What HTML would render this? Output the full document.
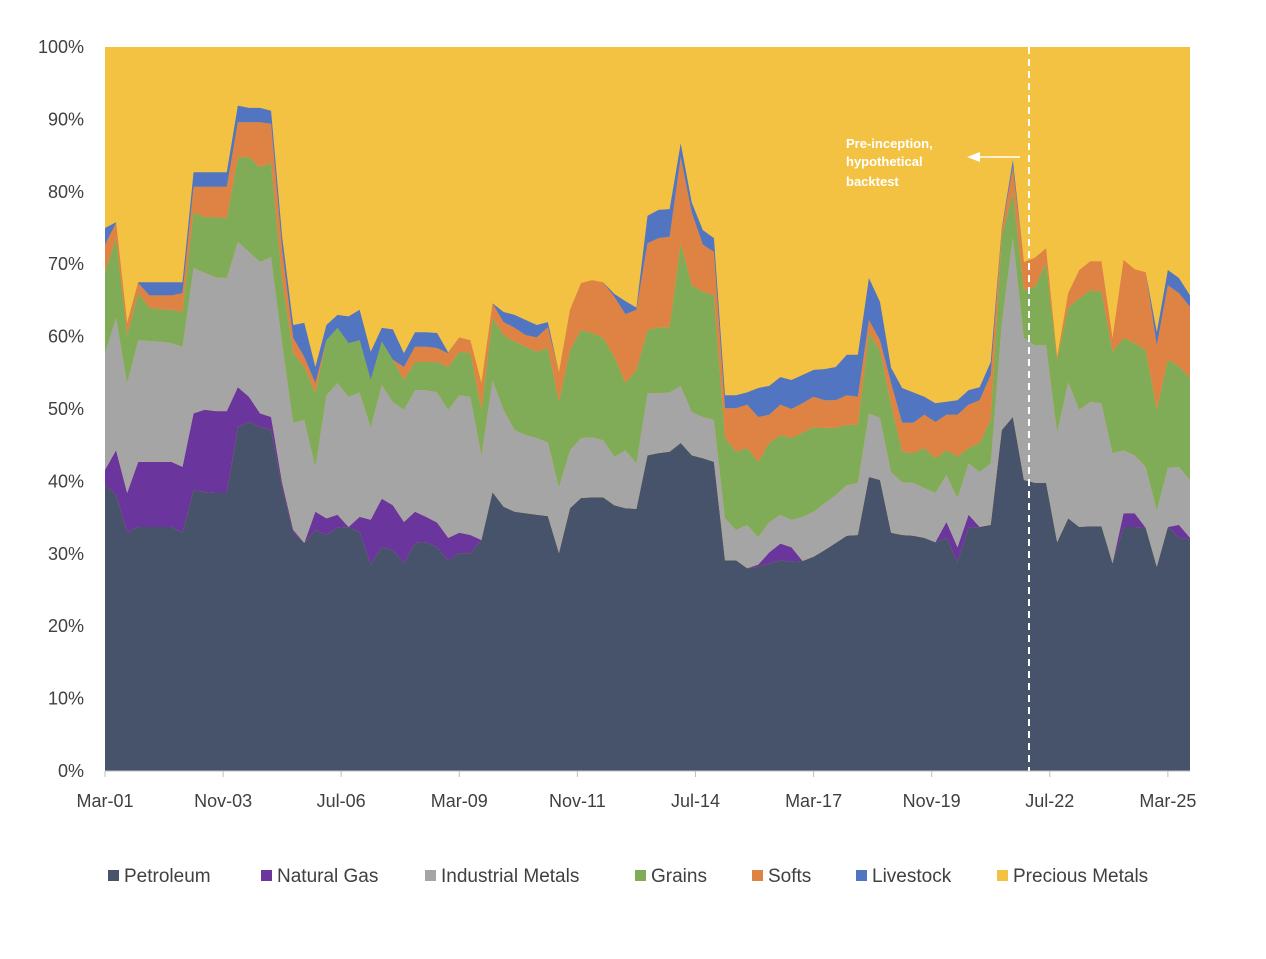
<!DOCTYPE html>
<html><head><meta charset="utf-8">
<style>
html,body{margin:0;padding:0;background:#fff;}
svg text{font-family:"Liberation Sans",sans-serif;}
</style></head>
<body>
<svg id="chart" width="1266" height="954" viewBox="0 0 1266 954" xmlns="http://www.w3.org/2000/svg">
<rect width="1266" height="954" fill="#fff"/>
<g id="areas"></g>
<g id="axes"></g>
<g id="annot">
  <line x1="1029" y1="47" x2="1029" y2="771" stroke="#fff" stroke-width="2" stroke-dasharray="7,5"/>
  <line x1="1020" y1="157" x2="978" y2="157" stroke="#fff" stroke-width="1.5"/>
  <polygon points="967,157 980,152 980,162" fill="#fff"/>
  <text x="846" y="148" fill="#fff" font-size="13" font-weight="bold">Pre-inception,</text>
  <text x="846" y="166" fill="#fff" font-size="13" font-weight="bold">hypothetical</text>
  <text x="846" y="186" fill="#fff" font-size="13" font-weight="bold">backtest</text>
</g>
<g id="legend"></g>
</svg>
<script>
const seriesNames = ["Petroleum","Natural Gas","Industrial Metals","Grains","Softs","Livestock"];
const seriesColors = ["#46536A","#6A359C","#A5A5A5","#80AB57","#DF8344","#5275C1"];
const preciousName = "Precious Metals";
const preciousColor = "#F4C243";
const startLabel = "Mar-01";
const xTickLabels = ["Mar-01","Nov-03","Jul-06","Mar-09","Nov-11","Jul-14","Mar-17","Nov-19","Jul-22","Mar-25"];
const xTickMonths = [0,32,64,96,128,160,192,224,256,288];
const yTicks = [0,10,20,30,40,50,60,70,80,90,100];
// quarterly observations, months since Mar-01
const petroleum = [39.5,38.1,33.0,33.7,33.7,33.7,33.7,32.9,38.8,38.5,38.4,38.4,47.5,48.2,47.5,47.1,39.2,32.9,31.5,33.3,32.6,33.6,33.7,33.0,28.5,30.9,30.5,28.7,31.5,31.6,30.9,29.1,30.1,30.1,31.9,38.5,36.5,35.8,35.6,35.4,35.2,30.1,36.3,37.7,37.8,37.8,36.7,36.3,36.2,43.6,43.9,44.1,45.3,43.6,43.2,42.7,29.1,29.1,28.0,28.2,28.7,29.1,28.9,29.0,29.6,30.5,31.5,32.5,32.6,40.6,40.2,32.9,32.6,32.5,32.2,31.6,32.2,28.9,33.6,33.7,34.0,47.1,48.9,40.2,39.8,39.8,31.6,34.9,33.7,33.8,33.8,28.7,33.7,33.7,33.6,28.2,33.7,32.2,32.0];
const naturalGas = [2.1,6.2,5.4,9.0,9.0,9.0,9.0,9.1,10.6,11.4,11.3,11.3,5.5,3.5,1.9,1.8,0.6,0.4,0,2.5,2.3,1.8,0,2.1,6.2,6.7,6.2,5.7,4.3,3.5,3.4,3.1,2.8,2.5,0,0,0,0,0,0,0,0,0,0,0,0,0,0,0,0,0,0,0,0,0,0,0,0,0,0.3,1.5,2.3,2.0,0,0,0,0,0,0,0,0,0,0,0,0,0,2.2,2.0,1.8,0,0,0,0,0,0,0,0,0,0,0,0,0,1.9,1.9,0,0,0,1.8,0.2];
const industrialMetals = [16.1,18.3,15.2,16.8,16.7,16.6,16.4,16.6,20.1,18.9,18.5,18.4,20.1,20.0,20.9,22.1,19.3,14.8,17.0,6.2,17.0,18.2,18.0,17.2,12.8,15.7,14.3,15.5,16.8,17.5,18.0,17.7,19.0,19.1,11.7,15.5,13.4,11.3,10.8,10.6,10.2,9.1,8.0,8.3,8.3,7.9,6.7,8.0,6.3,8.6,8.3,8.2,7.9,6.0,5.7,5.8,5.8,4.2,6.0,3.8,4.2,4.0,3.8,6.1,6.2,6.5,6.6,7.0,7.2,8.8,8.6,8.4,7.3,7.3,6.9,6.8,6.5,6.8,7.1,7.6,8.5,14.8,24.9,19.6,19.0,19.0,15.2,18.8,16.2,17.2,17.0,15.2,8.7,8.0,8.4,7.8,8.2,8.0,8.0];
const grains = [11.2,11.0,6.6,6.5,4.6,4.5,4.6,4.8,7.7,7.7,8.3,8.3,11.6,13.1,13.1,13.0,8.7,9.6,7.3,10.2,7.6,7.6,7.4,7.2,6.5,6.0,5.8,4.1,3.9,3.9,4.2,5.9,6.0,6.0,6.3,8.6,10.3,12.2,12.2,11.9,13.0,11.8,13.8,14.9,14.4,14.1,13.8,9.3,12.9,8.7,9.1,9.0,19.7,17.5,17.3,17.2,11.1,10.8,10.6,10.4,10.9,11.0,11.3,11.6,11.7,10.4,9.3,8.3,8.0,11.1,9.3,9.3,4.2,4.1,5.5,4.8,3.4,5.7,2.1,4.0,6.0,11.9,6.2,6.6,8.1,11.4,10.0,10.3,15.4,15.4,15.4,14.0,15.5,15.5,16.1,13.9,14.9,13.9,14.1];
const softs = [3.8,2.1,1.7,1.4,1.7,1.9,2.0,2.6,3.5,4.2,4.2,4.3,4.9,4.8,6.2,5.4,4.2,2.1,1.4,1.4,0,0,0,0,0,0,0,1.8,2.1,2.1,1.9,1.9,2.0,1.8,3.7,2.0,1.8,1.9,1.6,2.0,2.9,4.1,5.6,6.5,7.3,7.7,8.3,9.5,8.3,12.0,12.3,12.5,11.9,10.0,6.5,6.0,4.1,6.0,6.0,6.2,3.9,4.2,4.0,4.1,4.2,3.8,3.8,4.1,3.9,1.8,1.4,3.0,4.0,4.2,4.6,5.0,4.9,5.8,6.0,5.9,6.2,0.9,3.4,3.9,4.0,2.0,0.4,2.0,3.9,4.0,4.2,1.9,10.8,10.2,10.8,8.9,10.3,10.1,9.8];
const livestock = [2.3,0.1,0,0.1,1.8,1.8,1.8,1.5,2.0,2.0,2.0,2.0,2.3,2.0,2.0,1.8,1.8,1.8,4.7,2.2,2.1,1.8,3.7,4.2,3.9,1.9,4.2,1.9,2.0,2.0,2.1,0.1,0,0,0,0,1.4,1.8,2.1,1.7,0.7,0,0,0,0,0,0.4,1.8,0.3,3.8,3.9,3.8,1.9,1.4,2.0,1.9,1.8,1.8,1.7,4.0,4.0,3.8,4.0,3.9,3.7,4.3,4.6,5.6,5.8,5.8,5.3,2.1,4.8,4.2,2.5,2.6,1.8,2.0,2.0,1.8,1.8,0.3,1.0,0,0,0,0,0,0,0,0,0,0,0,0,1.8,2.1,2.1,1.6];
const series = [petroleum,naturalGas,industrialMetals,grains,softs,livestock];

const NS="http://www.w3.org/2000/svg";
const L=105,R=1190,T=47,B=771;
const nPts = petroleum.length;
const monthsPerPoint = 3;
const lastMonth = (nPts-1)*monthsPerPoint;
const xScale = m => L + (m/lastMonth)*(R-L);
const yScale = v => B - (v/100)*(B-T);
function mk(tag,attrs,parent){const e=document.createElementNS(NS,tag);for(const k in attrs)e.setAttribute(k,attrs[k]);parent.appendChild(e);return e;}

const areas=document.getElementById('areas');
// precious metals background (remainder to 100%)
const bg=mk('rect',{x:L,y:T,width:R-L,height:B-T,fill:preciousColor},areas);


const cum=new Array(nPts).fill(0);
series.forEach((s,si)=>{
  const lower=cum.slice();
  for(let i=0;i<nPts;i++)cum[i]+=s[i];
  let d='';
  for(let i=0;i<nPts;i++)d+=(i?'L':'M')+xScale(i*monthsPerPoint).toFixed(2)+','+yScale(cum[i]).toFixed(2);
  for(let i=nPts-1;i>=0;i--)d+='L'+xScale(i*monthsPerPoint).toFixed(2)+','+yScale(lower[i]).toFixed(2);
  d+='Z';
  const p=mk('path',{d:d,fill:seriesColors[si]},areas);
  
  
});

const axes=document.getElementById('axes');
yTicks.forEach(v=>{
  const t=mk('text',{x:84,y:yScale(v)+6,'text-anchor':'end','font-size':18,fill:'#404040'},axes);
  t.textContent=v+'%';
  
  
});
const ax=mk('line',{x1:L,y1:B,x2:R,y2:B,stroke:'#BFBFBF','stroke-width':1},axes);


xTickLabels.forEach((lab,i)=>{
  const x=xScale(xTickMonths[i]);
  const tk=mk('line',{x1:x,y1:B,x2:x,y2:B+6,stroke:'#BFBFBF','stroke-width':1},axes);
  
  
  const t=mk('text',{x:x,y:807,'text-anchor':'middle','font-size':18,fill:'#404040'},axes);
  t.textContent=lab;
  
  
});

const legend=document.getElementById('legend');
const legNames=seriesNames.concat([preciousName]);
const legColors=seriesColors.concat([preciousColor]);
const legX=[108,261,425,635,752,856,997];
legNames.forEach((n,i)=>{
  const g=mk('g',{},legend);
  
  
  mk('rect',{x:legX[i],y:870,width:11,height:11,fill:legColors[i]},g);
  const t=mk('text',{x:legX[i]+16,y:882,'font-size':19,fill:'#404040'},g);
  t.textContent=n;
});
</script>
</body></html>
